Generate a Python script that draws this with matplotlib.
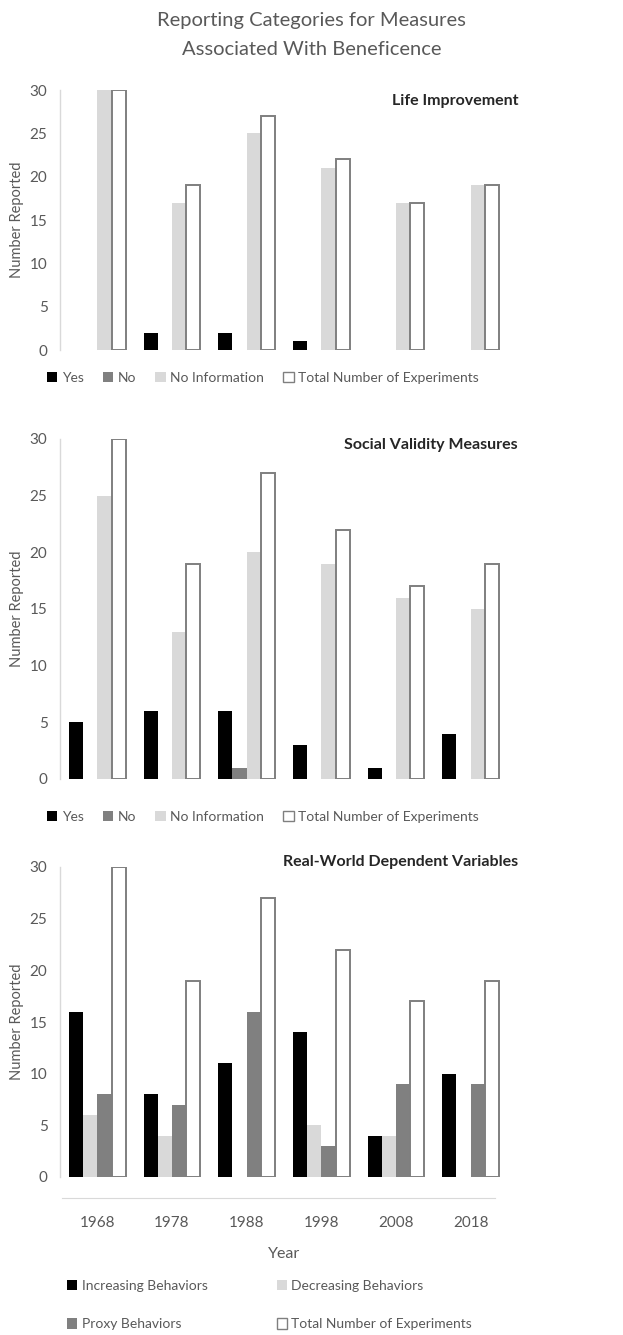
import matplotlib.pyplot as plt
import numpy as np
from matplotlib.patches import Patch

plt.rcParams['font.family'] = ['Lato', 'DejaVu Sans']

# data
years = ['1968', '1978', '1988', '1998', '2008', '2018']
total_exp = [30, 19, 27, 22, 17, 19]

life_yes = [0, 2, 2, 1, 0, 0]
life_no = [0, 0, 0, 0, 0, 0]
life_noinfo = [30, 17, 25, 21, 17, 19]

social_yes = [5, 6, 6, 3, 1, 4]
social_no = [0, 0, 1, 0, 0, 0]
social_noinfo = [25, 13, 20, 19, 16, 15]

real_increasing = [16, 8, 11, 14, 4, 10]
real_decreasing = [6, 4, 0, 5, 4, 0]
real_proxy = [8, 7, 16, 3, 9, 9]

BLACK = '#000000'
GRAY = '#808080'
LIGHT = '#d9d9d9'
EDGE = '#7f7f7f'
TXT = '#595959'

W, H = 623, 1335
fig = plt.figure(figsize=(W / 100, H / 100), dpi=100)


def px_axes(y_top, y_bottom):
    # axes rectangle from pixel rows of the 30 and 0 gridlines
    left = 60 / W
    width = 448 / W
    return fig.add_axes([left, 1 - y_bottom / H, width, (y_bottom - y_top) / H])


def draw_panel(ax, series, colors):
    x = np.arange(len(years))
    bw = 0.19
    offs = [-1.5, -0.5, 0.5, 1.5]
    for vals, c, o in zip(series, colors, offs):
        if c == 'white':
            ax.bar(x + o * bw, vals, bw, color='white', edgecolor=EDGE, linewidth=1.4)
        else:
            ax.bar(x + o * bw, vals, bw, color=c, linewidth=0)
    ax.set_xlim(-0.5, 5.5)
    ax.set_ylim(0, 30)
    ax.set_yticks(np.arange(0, 31, 5))
    ax.tick_params(axis='y', length=0, pad=9, labelsize=11, labelcolor=TXT)
    for s in ['top', 'right']:
        ax.spines[s].set_visible(False)
    ax.spines['left'].set_color(LIGHT)
    ax.spines['left'].set_linewidth(1.0)
    ax.set_ylabel('Number Reported', fontsize=10.5, color=TXT, labelpad=4)


def legend_handles(colors, labels):
    hs = []
    for c, l in zip(colors, labels):
        if c == 'white':
            hs.append(Patch(facecolor='white', edgecolor=EDGE, linewidth=1.0, label=l))
        else:
            hs.append(Patch(facecolor=c, edgecolor='none', label=l))
    return hs


yn_colors = [BLACK, GRAY, LIGHT, 'white']
yn_labels = ['Yes', 'No', 'No Information', 'Total Number of Experiments']

# panel 1
ax1 = px_axes(90, 350)
draw_panel(ax1, [life_yes, life_no, life_noinfo, total_exp], yn_colors)
ax1.spines['bottom'].set_visible(False)
ax1.set_xticks([])

# panel 2
ax2 = px_axes(439, 779)
draw_panel(ax2, [social_yes, social_no, social_noinfo, total_exp], yn_colors)
ax2.spines['bottom'].set_visible(False)
ax2.set_xticks([])

# panel 3
rw_colors = [BLACK, LIGHT, GRAY, 'white']
ax3 = px_axes(867, 1177)
draw_panel(ax3, [real_increasing, real_decreasing, real_proxy, total_exp], rw_colors)
ax3.spines['bottom'].set_position(('outward', 15))
ax3.spines['bottom'].set_color(LIGHT)
ax3.spines['bottom'].set_bounds(-0.47, 5.33)
ax3.set_xticks(np.arange(len(years)))
ax3.set_xticklabels(years)
ax3.tick_params(axis='x', length=0, pad=13, labelsize=11, labelcolor=TXT)
ax3.set_xlabel('Year', fontsize=11.5, color=TXT, labelpad=12)

# legends
leg_kw = dict(frameon=False, fontsize=10, labelcolor=TXT, handlelength=0.75,
              handleheight=0.75, handletextpad=0.3, borderaxespad=0, borderpad=0)
fig.legend(handles=legend_handles(yn_colors, yn_labels), loc='center left',
           bbox_to_anchor=(47 / W, 1 - 378 / H), ncol=4, columnspacing=1.4, **leg_kw)
fig.legend(handles=legend_handles(yn_colors, yn_labels), loc='center left',
           bbox_to_anchor=(47 / W, 1 - 817 / H), ncol=4, columnspacing=1.4, **leg_kw)
rw_labels = ['Increasing Behaviors', 'Decreasing Behaviors', 'Proxy Behaviors',
             'Total Number of Experiments']
hs = legend_handles(rw_colors, rw_labels)
fig.legend(handles=[hs[0], hs[2], hs[1], hs[3]], loc='upper left',
           bbox_to_anchor=(67 / W, 1 - 1280 / H), ncol=2, columnspacing=5.0,
           labelspacing=1.9, **leg_kw)

# titles
fig.text(0.5, 1 - 35 / H, 'Reporting Categories for Measures\nAssociated With Beneficence',
         ha='center', va='center', fontsize=14.5, color=TXT, linespacing=1.8)
fig.text(518 / W, 1 - 101 / H, 'Life Improvement', ha='right', va='center',
         fontsize=11.5, fontweight='bold', color='#262626')
fig.text(518 / W, 1 - 445 / H, 'Social Validity Measures', ha='right', va='center',
         fontsize=11.5, fontweight='bold', color='#262626')
fig.text(518 / W, 1 - 862 / H, 'Real-World Dependent Variables', ha='right', va='center',
         fontsize=11.5, fontweight='bold', color='#262626')

plt.savefig('out.png', dpi=100)
